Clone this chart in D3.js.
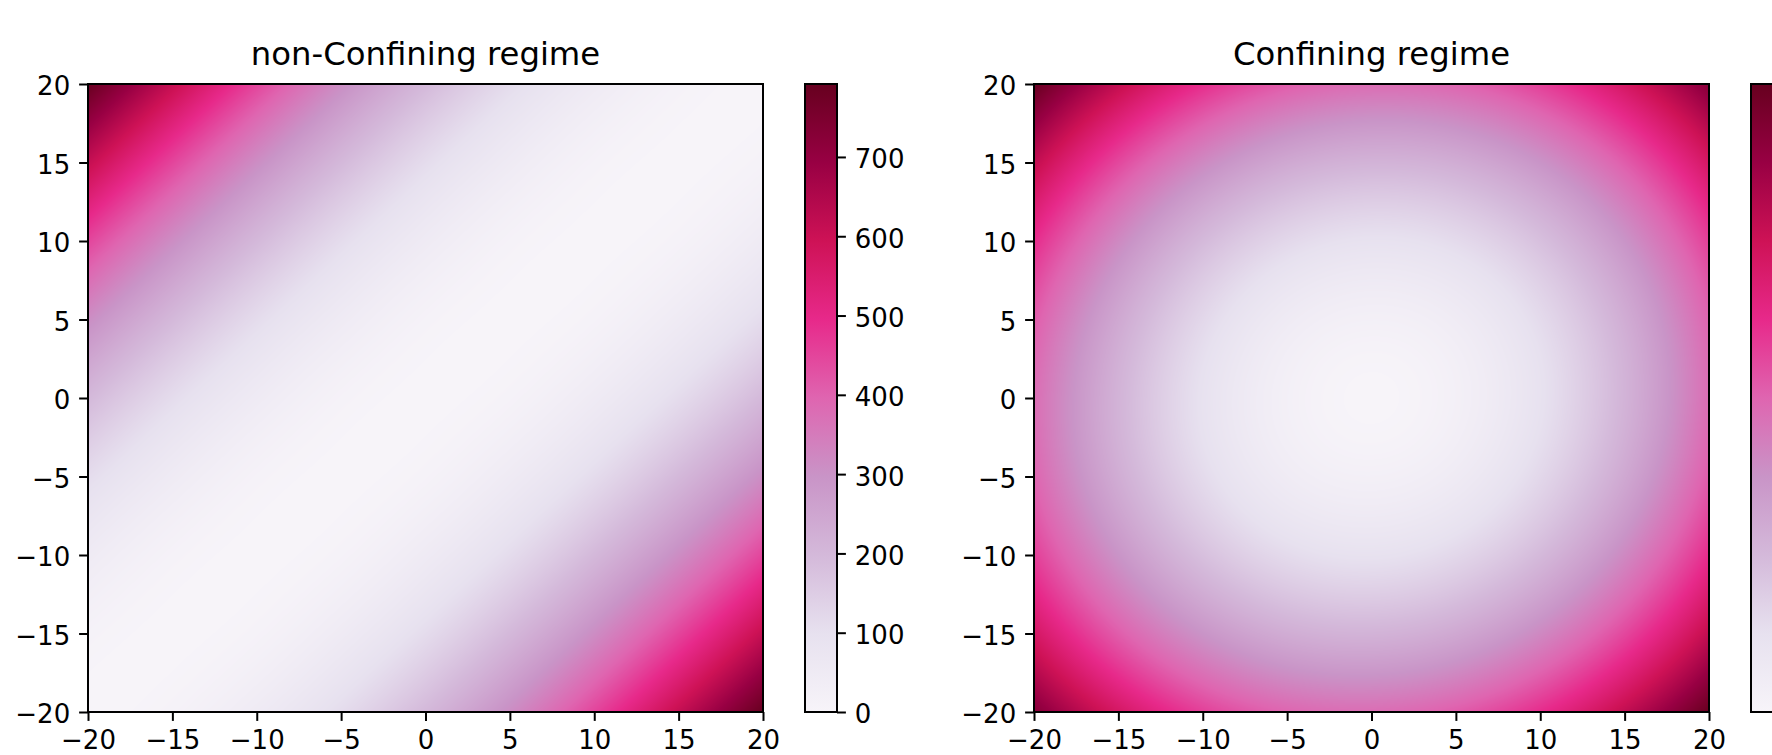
<!DOCTYPE html>
<html>
<head>
<meta charset="utf-8">
<script src="https://cdn.jsdelivr.net/npm/d3@7"></script>
<style>
body{margin:0;background:#fff;}
svg{display:block;font-family:"DejaVu Sans",sans-serif;}
</style>
</head>
<body>
<div id="chart"></div>
<script>
(function(){
// grid nodes (at every major tick)
var grid_x = [-20,-15,-10,-5,0,5,10,15,20];
var grid_y = [20,15,10,5,0,-5,-10,-15,-20];   // rows, top to bottom
var ticks = [-20,-15,-10,-5,0,5,10,15,20];
var cbar_ticks = [0,100,200,300,400,500,600,700];
var titles = ["non-Confining regime","Confining regime"];

var nonconf = [
	[792,612,450,312,200,112, 50, 12,  0],
	[612,450,312,200,112, 50, 12,  0, 12],
	[450,312,200,112, 50, 12,  0, 12, 50],
	[312,200,112, 50, 12,  0, 12, 50,112],
	[200,112, 50, 12,  0, 12, 50,112,200],
	[112, 50, 12,  0, 12, 50,112,200,312],
	[ 50, 12,  0, 12, 50,112,200,312,450],
	[ 12,  0, 12, 50,112,200,312,450,612],
	[  0, 12, 50,112,200,312,450,612,792]
];

var conf = [
	[784,612,486,408,376,392,454,564,720],
	[612,441,318,241,212,229,294,405,564],
	[486,318,196,122, 94,114,180,294,454],
	[408,241,122, 49, 24, 45,114,229,392],
	[376,212, 94, 24,  0, 24, 94,212,376],
	[392,229,114, 45, 24, 49,122,241,408],
	[454,294,180,114, 94,122,196,318,486],
	[564,405,294,229,212,241,318,441,612],
	[720,564,454,392,376,408,486,612,784]
];

var purd = ["#f7f4f9","#e7e1ef","#d4b9da","#c994c7","#df65b0","#e7298a","#ce1256","#980043","#67001f"];

var width = 1772,
	height = 755,
	ax_top = 84,
	ax_w = 675,
	ax_h = 628,
	cb_w = 32,
	tick_len = 8.9,
	tick_pad = 8.9,
	fs_tick = 26,
	fs_title = 32.3;

var panels = [
	{id:"nc", title:titles[0], grid:nonconf, left:88, cb_left:805},
	{id:"c", title:titles[1], grid:conf, left:1034, cb_left:1751}
];

var svg = d3.select("#chart").append("svg")
	.attr("width",width)
	.attr("height",height);

var defs = svg.append("defs");

var gx = d3.scaleLinear().domain([grid_x[0],grid_x[grid_x.length-1]]).range([0,grid_x.length-1]);
var gy = d3.scaleLinear().domain([grid_y[0],grid_y[grid_y.length-1]]).range([0,grid_y.length-1]);

// Keys cubic convolution, with the usual boundary extension
function pad(g){
	var rows = g.map(function(r){
		var m = r.length;
		return [3*r[0]-3*r[1]+r[2]].concat(r,[3*r[m-1]-3*r[m-2]+r[m-3]]);
	});
	var k = rows.length;
	var first = rows[0].map(function(v,j){ return 3*rows[0][j]-3*rows[1][j]+rows[2][j]; });
	var last = rows[k-1].map(function(v,j){ return 3*rows[k-1][j]-3*rows[k-2][j]+rows[k-3][j]; });
	return [first].concat(rows,[last]);
}
function kern(t){
	t = Math.abs(t);
	if (t <= 1) return 1.5*t*t*t - 2.5*t*t + 1;
	if (t < 2) return -0.5*t*t*t + 2.5*t*t - 4*t + 2;
	return 0;
}
function sample(p,fx,fy){
	var n = p.length - 3;
	var ix = Math.min(Math.max(Math.floor(fx),0),n-1),
		iy = Math.min(Math.max(Math.floor(fy),0),n-1);
	var tx = fx-ix, ty = fy-iy, s = 0;
	for (var a=-1;a<=2;a++){
		var wy = kern(ty-a), row = p[iy+a+1];
		for (var b=-1;b<=2;b++) s += wy*kern(tx-b)*row[ix+b+1];
	}
	return s;
}

var cstops = d3.range(purd.length).map(function(i){return i/(purd.length-1)});
var cmap = d3.scaleLinear().domain(cstops).range(purd).interpolate(d3.interpolateRgb).clamp(true);
var lut = d3.range(1024).map(function(i){ return d3.rgb(cmap(i/1023)); });

panels.forEach(function(P){
	var vmin = d3.min(P.grid,function(r){return d3.min(r)}),
		vmax = d3.max(P.grid,function(r){return d3.max(r)});

	var X = d3.scaleLinear().domain([-20,20]).range([P.left,P.left+ax_w]);
	var Y = d3.scaleLinear().domain([-20,20]).range([ax_top+ax_h,ax_top]);

	// heat map
	var canvas = document.createElement("canvas");
	canvas.width = ax_w; canvas.height = ax_h;
	var ctx = canvas.getContext("2d");
	var img = ctx.createImageData(ax_w,ax_h);
	var p = pad(P.grid);
	for (var py=0;py<ax_h;py++){
		var fy = gy(Y.invert(ax_top+py+0.5));
		for (var px=0;px<ax_w;px++){
			var fx = gx(X.invert(P.left+px+0.5));
			var v = sample(p,fx,fy);
			var t = Math.max(0,Math.min(1,(v-vmin)/(vmax-vmin)));
			var c = lut[Math.round(t*1023)];
			var k = 4*(py*ax_w+px);
			img.data[k]=c.r; img.data[k+1]=c.g; img.data[k+2]=c.b; img.data[k+3]=255;
		}
	}
	ctx.putImageData(img,0,0);

	svg.append("image")
		.attr("href",canvas.toDataURL())
		.attr("x",P.left).attr("y",ax_top)
		.attr("width",ax_w).attr("height",ax_h)
		.attr("preserveAspectRatio","none");

	svg.append("rect")
		.attr("x",P.left).attr("y",ax_top)
		.attr("width",ax_w).attr("height",ax_h)
		.attr("fill","none").attr("stroke","#000").attr("stroke-width",2);

	var xa = svg.append("g")
		.attr("transform","translate(0,"+(ax_top+ax_h)+")")
		.call(d3.axisBottom(X).tickValues(ticks).tickSize(tick_len).tickPadding(tick_pad).tickSizeOuter(0));
	var ya = svg.append("g")
		.attr("transform","translate("+P.left+",0)")
		.call(d3.axisLeft(Y).tickValues(ticks).tickSize(tick_len).tickPadding(tick_pad).tickSizeOuter(0));

	[xa,ya].forEach(function(a){
		a.select(".domain").remove();
		a.selectAll(".tick line").attr("stroke","#000").attr("stroke-width",2);
		a.selectAll(".tick text").attr("fill","#000").style("font-size",fs_tick+"px").style("font-family","DejaVu Sans");
	});
	xa.selectAll(".tick text").attr("dy","0.73em");
	ya.selectAll(".tick text").attr("dy","0.42em");

	svg.append("text")
		.attr("x",P.left+ax_w/2).attr("y",65)
		.attr("text-anchor","middle")
		.style("font-size",fs_title+"px")
		.attr("fill","#000")
		.text(P.title);

	// colour bar
	var gid = "grad_"+P.id;
	defs.append("linearGradient")
		.attr("id",gid)
		.attr("x1",0).attr("y1",1).attr("x2",0).attr("y2",0)
		.selectAll("stop").data(purd).enter().append("stop")
		.attr("offset",function(d,i){return cstops[i]})
		.attr("stop-color",function(d){return d});

	svg.append("rect")
		.attr("x",P.cb_left).attr("y",ax_top)
		.attr("width",cb_w).attr("height",ax_h)
		.attr("fill","url(#"+gid+")")
		.attr("stroke","#000").attr("stroke-width",2);

	// the second bar's ticks fall past the right edge of the figure
	if (P.cb_left + cb_w + tick_len < width) {
		var C = d3.scaleLinear().domain([vmin,vmax]).range([ax_top+ax_h,ax_top]);
		var ca = svg.append("g")
			.attr("transform","translate("+(P.cb_left+cb_w)+",0)")
			.call(d3.axisRight(C).tickValues(cbar_ticks).tickSize(tick_len).tickPadding(tick_pad).tickSizeOuter(0).tickFormat(d3.format("d")));
		ca.select(".domain").remove();
		ca.selectAll(".tick line").attr("stroke","#000").attr("stroke-width",2);
		ca.selectAll(".tick text").attr("fill","#000").attr("dy","0.42em").style("font-size",fs_tick+"px").style("font-family","DejaVu Sans");
	}
});

})()
</script>
</body>
</html>
